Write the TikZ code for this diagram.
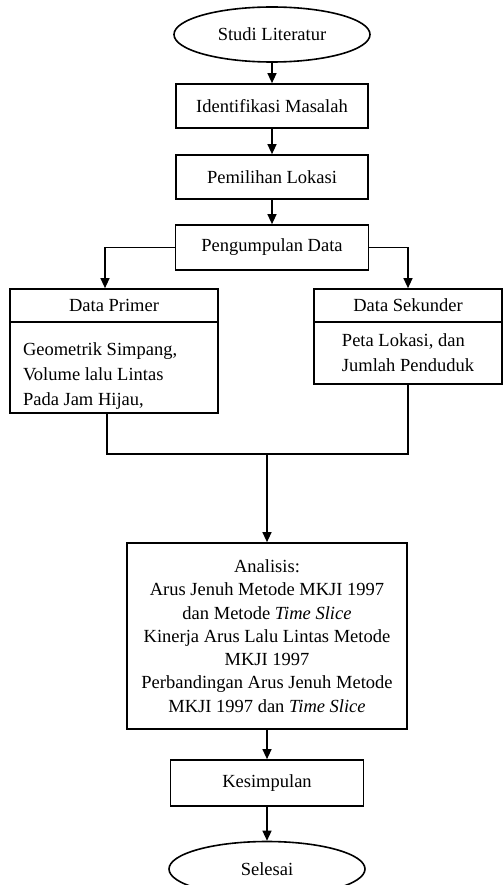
\documentclass[tikz,border=0pt]{standalone}
\usepackage{fontspec}
\setmainfont{Liberation Serif}
\usetikzlibrary{shapes.geometric,arrows.meta}

\tikzset{
  terminal/.style={draw, ellipse, line width=1.6pt, minimum width=196pt, minimum height=55pt, inner sep=0pt},
  kotak/.style={draw, rectangle, line width=1.7pt, inner sep=0pt},
  isi/.style={kotak, align=flush left, font=\fontsize{18.5}{25}\selectfont},
  panah/.style={line width=1.3pt, -{Triangle[length=10pt,width=9pt]}},
  gabung/.style={line width=2.6pt},
}

\begin{document}
\begin{tikzpicture}[x=1pt, y=-1pt, font=\fontsize{18.5}{23.3}\selectfont]
  \useasboundingbox (0,0) rectangle (503,885);
  \clip (0,0) rectangle (503,885);

  \node [terminal] (studi) at (272,34.5) {Studi Literatur};
  \node [kotak, minimum width=192pt, minimum height=44pt] (identifikasi) at (272,106) {Identifikasi Masalah};
  \node [kotak, minimum width=192pt, minimum height=44pt] (pemilihan) at (272,177) {Pemilihan Lokasi};
  \node [kotak, minimum width=193pt, minimum height=45pt] (pengumpulan) at (272,247.5) {Pengumpulan Data};

  % data primer dan sekunder
  \node [kotak, minimum width=208pt, minimum height=33pt] (primerjudul) at (114,305.5) {Data Primer};
  \node [isi, minimum width=208pt, minimum height=91pt, text width=182pt, inner xsep=13pt,
         text height=29pt, text depth=54pt] (primerisi) at (114,367.5)
    {Geometrik Simpang,\\ Volume lalu Lintas\\ Pada Jam Hijau,};
  \node [kotak, minimum width=188pt, minimum height=33pt] (sekunderjudul) at (408,305.5) {Data Sekunder};
  \node [isi, minimum width=188pt, minimum height=62pt] (sekunderisi) at (408,353)
    {Peta Lokasi, dan\\ Jumlah Penduduk};

  \node [kotak, align=center, minimum width=280pt, minimum height=186pt] (analisis) at (267,636)
    {Analisis:\\ Arus Jenuh Metode MKJI 1997\\ dan Metode \textit{Time Slice}\\
     Kinerja Arus Lalu Lintas Metode\\ MKJI 1997\\ Perbandingan Arus Jenuh Metode\\
     MKJI 1997 dan \textit{Time Slice}};
  \node [kotak, minimum width=193pt, minimum height=46pt] (kesimpulan) at (267,783) {Kesimpulan};
  \node [terminal] (selesai) at (267,869) {Selesai};

  \coordinate (temu) at (267,454);

  \draw [panah] (studi.south) -- (identifikasi.north);
  \draw [panah] (identifikasi.south) -- (pemilihan.north);
  \draw [panah] (pemilihan.south) -- (pengumpulan.north);
  \draw [panah] (pengumpulan.west) -| ([xshift=-9pt]primerjudul.north);
  \draw [panah] (pengumpulan.east) -| (sekunderjudul.north);
  \draw [gabung] ([xshift=-7pt]primerisi.south) |- (temu) -| (sekunderisi.south);
  \draw [panah] (temu) -- (analisis.north);
  \draw [panah] (analisis.south) -- (kesimpulan.north);
  \draw [panah] (kesimpulan.south) -- (selesai.north);
\end{tikzpicture}
\end{document}
